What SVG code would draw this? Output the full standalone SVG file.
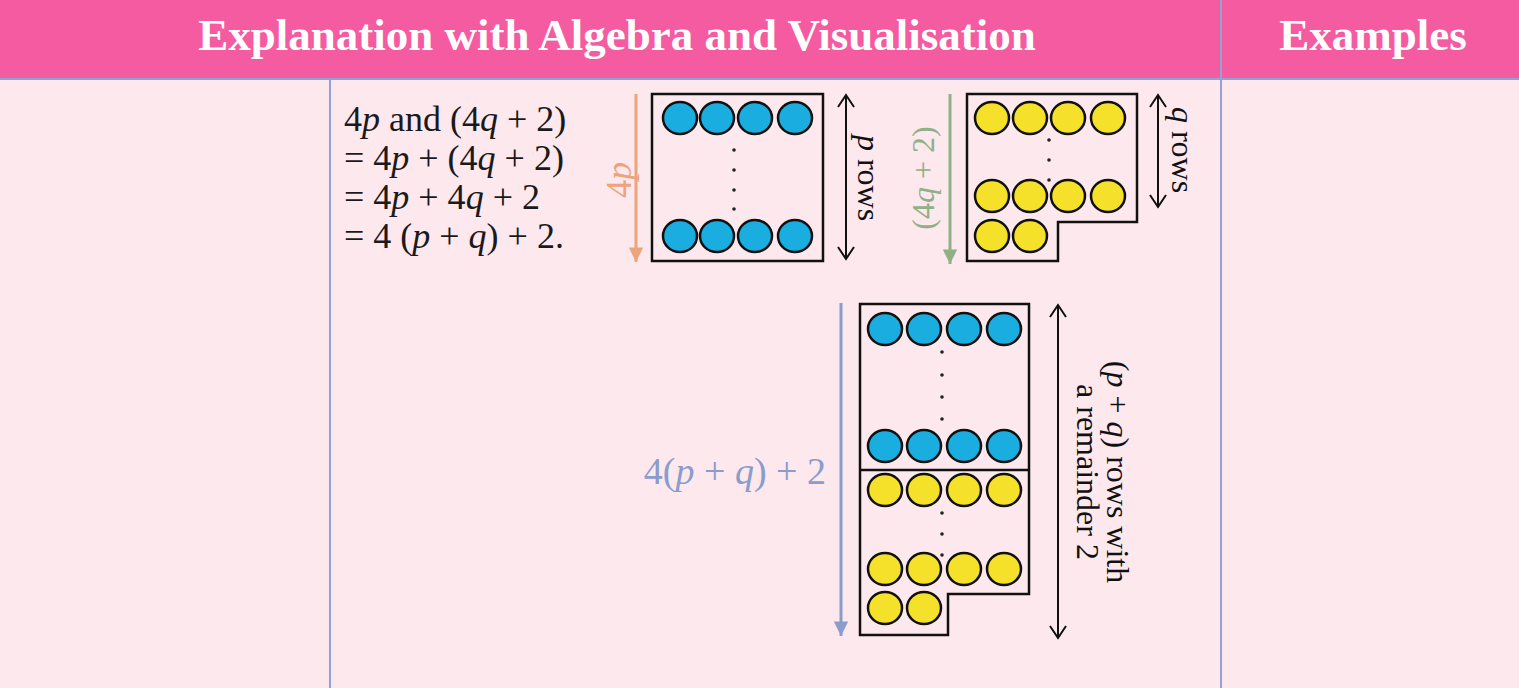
<svg xmlns="http://www.w3.org/2000/svg" width="1519" height="688" viewBox="0 0 1519 688">
<defs>
<style>
.hd{font-family:"Liberation Serif",serif;font-weight:bold;font-size:45px;fill:#fff}
.t{font-family:"Liberation Serif",serif;font-size:36px;fill:#1a1a1a}
.lb{font-family:"Liberation Serif",serif;font-size:32px}
.b{fill:#1aaee0;stroke:#111;stroke-width:2.5}
.y{fill:#f5e02a;stroke:#111;stroke-width:2.5}
.box{fill:none;stroke:#111;stroke-width:2.5}
.dot{fill:#222}
</style>
<marker id="ab" viewBox="0 0 20 20" refX="18" refY="10" markerWidth="20" markerHeight="20" markerUnits="userSpaceOnUse" orient="auto-start-reverse"><path d="M6,2 L18,10 L6,18" fill="none" stroke="#111" stroke-width="2"/></marker>
<marker id="ao" viewBox="0 0 20 20" refX="18" refY="10" markerWidth="18" markerHeight="18" markerUnits="userSpaceOnUse" orient="auto"><path d="M2,2 L18,10 L2,18 Z" fill="#eca57a"/></marker>
<marker id="ag" viewBox="0 0 20 20" refX="18" refY="10" markerWidth="18" markerHeight="18" markerUnits="userSpaceOnUse" orient="auto"><path d="M2,2 L18,10 L2,18 Z" fill="#90b088"/></marker>
<marker id="av" viewBox="0 0 20 20" refX="18" refY="10" markerWidth="18" markerHeight="18" markerUnits="userSpaceOnUse" orient="auto"><path d="M2,2 L18,10 L2,18 Z" fill="#8a9ccc"/></marker>
</defs>
<rect width="1519" height="688" fill="#fde8ee"/>
<rect width="1519" height="78" fill="#f55ba0"/>
<g stroke="#93a2d0" stroke-width="2"><line x1="330" y1="78" x2="330" y2="688"/><line x1="1221" y1="0" x2="1221" y2="688"/><line x1="0" y1="79" x2="1519" y2="79"/></g>
<text class="hd" x="617" y="50" text-anchor="middle">Explanation with Algebra and Visualisation</text>
<text class="hd" x="1373" y="50" text-anchor="middle">Examples</text>
<g id="eq" class="t">
<text x="344" y="131">4<tspan font-style="italic">p</tspan> and (4<tspan font-style="italic">q</tspan> + 2)</text>
<text x="344" y="170">= 4<tspan font-style="italic">p</tspan> + (4<tspan font-style="italic">q</tspan> + 2)</text>
<text x="344" y="209">= 4<tspan font-style="italic">p</tspan> + 4<tspan font-style="italic">q</tspan> + 2</text>
<text x="344" y="248">= 4 (<tspan font-style="italic">p</tspan> + <tspan font-style="italic">q</tspan>) + 2.</text>
</g>
<g id="box1">
<rect class="box" x="652" y="94" width="171" height="167"/>
<g class="b"><ellipse cx="680" cy="118" rx="17" ry="16"/><ellipse cx="717" cy="118" rx="17" ry="16"/><ellipse cx="755" cy="118" rx="17" ry="16"/><ellipse cx="795" cy="118" rx="17" ry="16"/>
<ellipse cx="680" cy="236" rx="17" ry="16"/><ellipse cx="717" cy="236" rx="17" ry="16"/><ellipse cx="755" cy="236" rx="17" ry="16"/><ellipse cx="795" cy="236" rx="17" ry="16"/></g>
<g class="dot"><circle cx="734" cy="150" r="1.8"/><circle cx="734" cy="170" r="1.8"/><circle cx="734" cy="190" r="1.8"/><circle cx="734" cy="209" r="1.8"/></g>
</g>
<g id="box2">
<path class="box" d="M967,94 H1137 V222 H1058 V261 H967 Z"/>
<g class="y"><ellipse cx="992" cy="118" rx="17" ry="16"/><ellipse cx="1030" cy="118" rx="17" ry="16"/><ellipse cx="1068" cy="118" rx="17" ry="16"/><ellipse cx="1108" cy="118" rx="17" ry="16"/>
<ellipse cx="992" cy="196" rx="17" ry="16"/><ellipse cx="1030" cy="196" rx="17" ry="16"/><ellipse cx="1068" cy="196" rx="17" ry="16"/><ellipse cx="1108" cy="196" rx="17" ry="16"/>
<ellipse cx="992" cy="236" rx="17" ry="16"/><ellipse cx="1030" cy="236" rx="17" ry="16"/></g>
<g class="dot"><circle cx="1049" cy="140" r="1.8"/><circle cx="1049" cy="160" r="1.8"/><circle cx="1049" cy="180" r="1.8"/></g>
</g>
<g id="box3">
<path class="box" d="M860,304 H1029 V594 H948 V635 H860 Z"/>
<line class="box" x1="860" y1="470" x2="1029" y2="470"/>
<g class="b"><ellipse cx="885" cy="329" rx="17" ry="16"/><ellipse cx="924" cy="329" rx="17" ry="16"/><ellipse cx="964" cy="329" rx="17" ry="16"/><ellipse cx="1004" cy="329" rx="17" ry="16"/>
<ellipse cx="885" cy="446" rx="17" ry="16"/><ellipse cx="924" cy="446" rx="17" ry="16"/><ellipse cx="964" cy="446" rx="17" ry="16"/><ellipse cx="1004" cy="446" rx="17" ry="16"/></g>
<g class="y"><ellipse cx="885" cy="490" rx="17" ry="16"/><ellipse cx="924" cy="490" rx="17" ry="16"/><ellipse cx="964" cy="490" rx="17" ry="16"/><ellipse cx="1004" cy="490" rx="17" ry="16"/>
<ellipse cx="885" cy="569" rx="17" ry="16"/><ellipse cx="924" cy="569" rx="17" ry="16"/><ellipse cx="964" cy="569" rx="17" ry="16"/><ellipse cx="1004" cy="569" rx="17" ry="16"/>
<ellipse cx="885" cy="608" rx="17" ry="16"/><ellipse cx="924" cy="608" rx="17" ry="16"/></g>
<g class="dot"><circle cx="942" cy="352" r="1.8"/><circle cx="942" cy="375" r="1.8"/><circle cx="942" cy="397" r="1.8"/><circle cx="942" cy="419" r="1.8"/><circle cx="942" cy="513" r="1.8"/><circle cx="942" cy="534" r="1.8"/><circle cx="942" cy="555" r="1.8"/></g>
</g>
<g id="connectors" fill="none" stroke-width="3">
<line x1="636" y1="94" x2="636" y2="262" stroke="#eca57a" marker-end="url(#ao)"/>
<line x1="950" y1="94" x2="950" y2="264" stroke="#90b088" marker-end="url(#ag)"/>
<line x1="841" y1="303" x2="841" y2="636" stroke="#8a9ccc" marker-end="url(#av)"/>
<line x1="846" y1="95" x2="846" y2="259" stroke="#111" stroke-width="2" marker-start="url(#ab)" marker-end="url(#ab)"/>
<line x1="1158" y1="95" x2="1158" y2="207" stroke="#111" stroke-width="2" marker-start="url(#ab)" marker-end="url(#ab)"/>
<line x1="1058" y1="305" x2="1058" y2="638" stroke="#111" stroke-width="2" marker-start="url(#ab)" marker-end="url(#ab)"/>
</g>
<g id="labels" class="lb">
<text transform="translate(631,180) rotate(-90)" text-anchor="middle" fill="#eca57a" font-size="36">4<tspan font-style="italic">p</tspan></text>
<text transform="translate(934,178) rotate(-90)" text-anchor="middle" fill="#90b088">(4<tspan font-style="italic">q</tspan> + 2)</text>
<text transform="translate(858,178) rotate(90)" text-anchor="middle" fill="#111"><tspan font-style="italic">p</tspan> rows</text>
<text transform="translate(1172,150) rotate(90)" text-anchor="middle" fill="#111"><tspan font-style="italic">q</tspan> rows</text>
<text x="826" y="484" text-anchor="end" fill="#8a9ccc" font-size="38">4(<tspan font-style="italic">p</tspan> + <tspan font-style="italic">q</tspan>) + 2</text>
<text transform="translate(1107,472) rotate(90)" text-anchor="middle" fill="#111">(<tspan font-style="italic">p</tspan> + <tspan font-style="italic">q</tspan>) rows with</text>
<text transform="translate(1077,472) rotate(90)" text-anchor="middle" fill="#111">a remainder 2</text>
</g>
</svg>
